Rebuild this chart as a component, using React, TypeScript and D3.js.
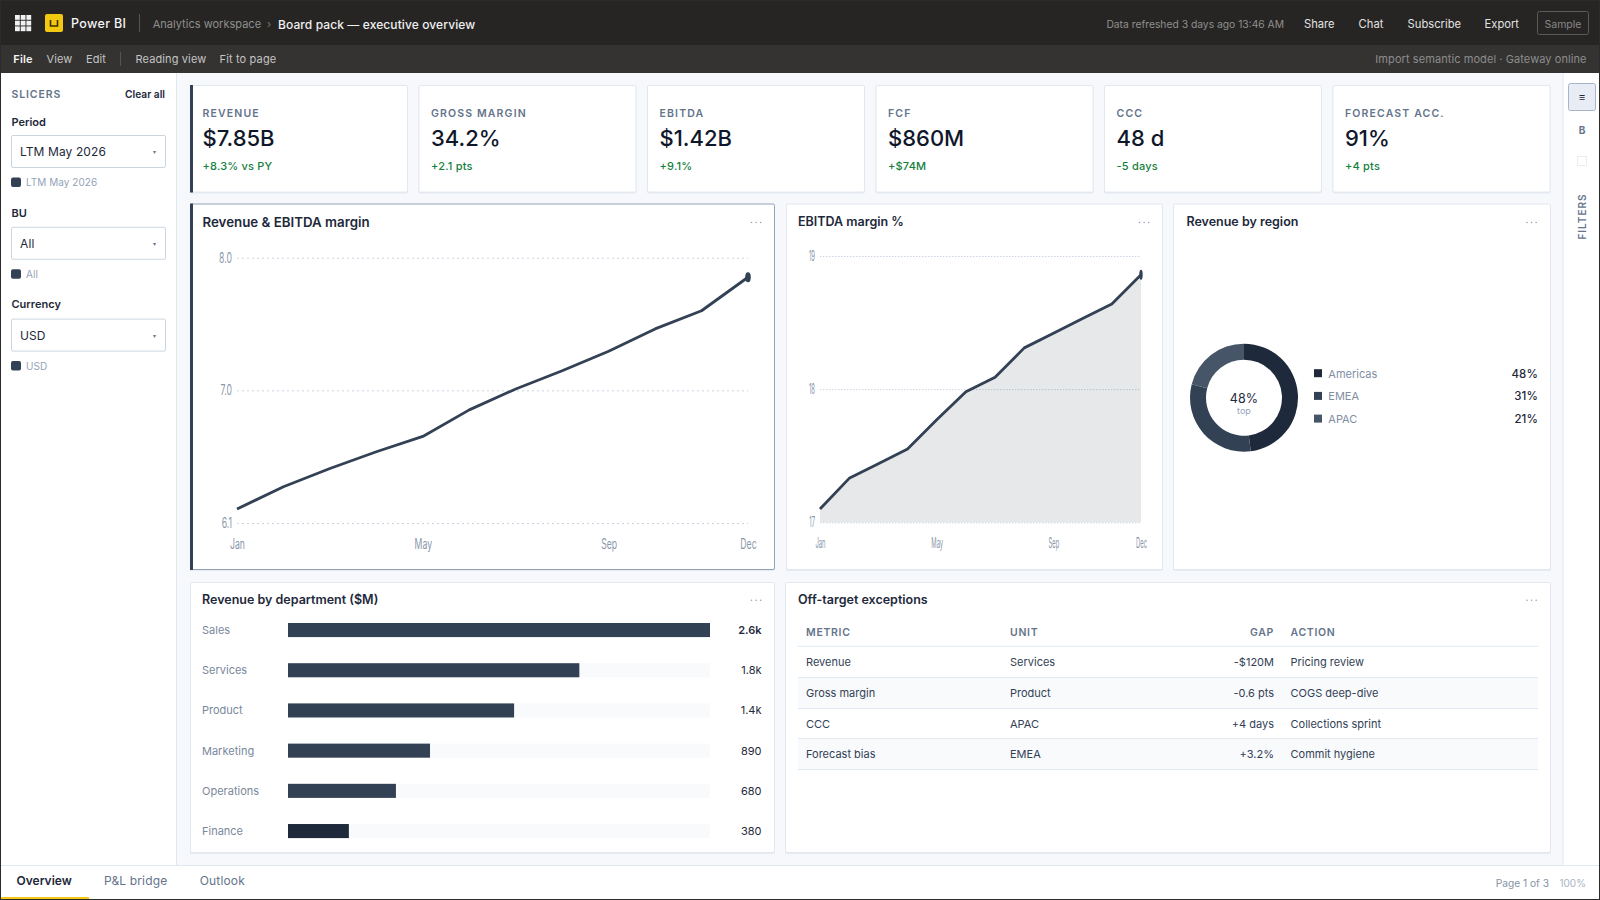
import React, { useEffect, useRef } from 'react';
import * as d3 from 'd3';

const months = ['Jan', 'Feb', 'Mar', 'Apr', 'May', 'Jun', 'Jul', 'Aug', 'Sep', 'Oct', 'Nov', 'Dec'];
const monthTicks = ['Jan', 'May', 'Sep', 'Dec'];
const revenue = [6.2, 6.36, 6.49, 6.61, 6.72, 6.91, 7.06, 7.19, 7.33, 7.49, 7.62, 7.86];
const revenueTicks = [6.1, 7.05, 8.0];
const margin = [17.1, 17.33, 17.44, 17.55, 17.77, 17.98, 18.09, 18.31, 18.42, 18.53, 18.64, 18.86];
const marginTicks = [17, 18, 19];

const kpiLabels = ['REVENUE', 'GROSS MARGIN', 'EBITDA', 'FCF', 'CCC', 'FORECAST ACC.'];
const kpiValues = ['$7.85B', '34.2%', '$1.42B', '$860M', '48 d', '91%'];
const kpiDeltas = ['+8.3% vs PY', '+2.1 pts', '+9.1%', '+$74M', '-5 days', '+4 pts'];

const slicerLabels = ['Period', 'BU', 'Currency'];
const slicerValues = ['LTM May 2026', 'All', 'USD'];

const regions = ['Americas', 'EMEA', 'APAC'];
const regionShare = [48, 31, 21];
const regionColors = ['#1e293b', '#334155', '#475569'];

const departments = ['Sales', 'Services', 'Product', 'Marketing', 'Operations', 'Finance'];
const deptValues = [2600, 1795, 1393, 875, 665, 375];
const deptLabels = ['2.6k', '1.8k', '1.4k', '890', '680', '380'];

const tableHead = ['METRIC', 'UNIT', 'GAP', 'ACTION'];
const tableMetric = ['Revenue', 'Gross margin', 'CCC', 'Forecast bias'];
const tableUnit = ['Services', 'Product', 'APAC', 'EMEA'];
const tableGap = ['-$120M', '-0.6 pts', '+4 days', '+3.2%'];
const tableAction = ['Pricing review', 'COGS deep-dive', 'Collections sprint', 'Commit hygiene'];

const topLinks = ['Share', 'Chat', 'Subscribe', 'Export'];
const topLinkX = [1304, 1358.6, 1407.6, 1484.6];
const tabs = ['Overview', 'P&L bridge', 'Outlook'];
const tabX = [16.5, 104, 199.8];

const INK = '#1e293b';
const SLATE = '#334155';
const MUTED = '#64748b';
const SOFT = '#94a3b8';
const LINE = '#e2e8f0';
const GREEN = '#15803d';

function T(props: any) {
  const { x, y, size = 11, weight = 400, fill = INK, anchor = 'start', ls = 0, children, ...rest } = props;
  return (
    <text x={x} y={y} fontSize={size} fontWeight={weight} fill={fill} textAnchor={anchor}
      letterSpacing={ls} dominantBaseline="central" {...rest}>
      {children}
    </text>
  );
}

function Panel({ x, y, w, h, title, tx, dotsX, active, titleSize = 12.5, headY = 18 }: any) {
  return (
    <g>
      <rect x={x} y={y + 1} width={w} height={h} rx={2} fill="#dfe5ee" opacity={0.7} />
      <rect x={x + 0.5} y={y + 0.5} width={w - 1} height={h - 1} rx={1.5} fill="#fff" stroke={active ? '#94a3b8' : LINE} />
      {active && <rect x={x} y={y} width={3} height={h} fill={SLATE} />}
      {title && <T x={tx} y={y + headY} size={titleSize} weight={600} fill={INK}>{title}</T>}
      {dotsX && [0, 1, 2].map(i => (
        <circle key={i} cx={dotsX + i * 4.6} cy={y + headY + 1} r={0.8} fill={SOFT} />
      ))}
    </g>
  );
}

function LineChart({ x0, x1, yTop, yBottom, values, domain, ticks, format, squeeze, dash, area, dot }: any) {
  const axisRef = useRef<SVGGElement>(null);
  const x = d3.scalePoint<string>().domain(months).range([x0, x1]);
  const y = d3.scaleLinear().domain(domain).range([yBottom, yTop]);

  useEffect(() => {
    if (!axisRef.current) return;
    const root = d3.select(axisRef.current);
    root.selectAll('*').remove();

    const left = root.append('g')
      .attr('transform', `translate(${x0},0)`)
      .call(d3.axisLeft(y).tickValues(ticks).tickSize(-(x1 - x0)).tickFormat(format));
    left.select('.domain').remove();
    left.selectAll('line').attr('stroke', '#cbd5e1').attr('stroke-dasharray', dash);
    left.selectAll('text')
      .attr('x', 0)
      .attr('transform', `translate(-5,0) scale(${squeeze},1)`)
      .attr('fill', '#8a97aa')
      .attr('font-size', 14)
      .attr('font-family', 'Inter');

    const bottom = root.append('g')
      .attr('transform', `translate(0,${yBottom + 10})`)
      .call(d3.axisBottom(x).tickValues(monthTicks).tickSize(0).tickPadding(6));
    bottom.select('.domain').remove();
    bottom.selectAll('text')
      .attr('transform', `scale(${squeeze},1)`)
      .attr('fill', '#8a97aa')
      .attr('font-size', 14)
      .attr('font-family', 'Inter');
  }, []);

  const lineGen = d3.line<number>().x((_, i) => x(months[i]) as number).y(d => y(d));
  const areaGen = d3.area<number>().x((_, i) => x(months[i]) as number).y0(yBottom).y1(d => y(d));
  const last = values[values.length - 1];

  return (
    <g>
      <g ref={axisRef} />
      {area && <path d={areaGen(values) as string} fill={INK} opacity={0.11} />}
      <path d={lineGen(values) as string} fill="none" stroke={SLATE} strokeWidth={2.8} strokeLinejoin="round" />
      <ellipse cx={x1} cy={y(last)} rx={dot} ry={5} fill={SLATE} />
    </g>
  );
}

function Donut() {
  const pie = d3.pie<number>().sort(null)(regionShare);
  const arc = d3.arc<d3.PieArcDatum<number>>().innerRadius(38).outerRadius(54);
  return (
    <g transform="translate(1244,397.7)">
      {pie.map((d, i) => <path key={i} d={arc(d) as string} fill={regionColors[i]} />)}
    </g>
  );
}

function Bars() {
  const y = d3.scaleBand().domain(departments).range([623, 838.1]).paddingInner(0.65).paddingOuter(0);
  const x = d3.scaleLinear().domain([0, d3.max(deptValues) as number]).range([288, 710]);
  return (
    <g>
      {departments.map((d, i) => {
        const top = y(d) as number;
        const mid = top + y.bandwidth() / 2;
        return (
          <g key={d}>
            <T x={202} y={mid} fill="#7a889c">{d}</T>
            <rect x={288} y={top} width={x.range()[1] - 288} height={y.bandwidth()} fill="#f8fafc" />
            <rect x={288} y={top} width={x(deptValues[i]) - 288} height={y.bandwidth()}
              fill={i === departments.length - 1 ? INK : SLATE} />
            <T x={761.5} y={mid} anchor="end" weight={i === 0 ? 600 : 400}>{deptLabels[i]}</T>
          </g>
        );
      })}
    </g>
  );
}

function Table() {
  const rowEdges = [646.3, 677.5, 708.5, 738.5, 769.5];
  return (
    <g>
      <T x={806} y={632.3} weight={600} ls={0.7} fill={MUTED} size={10.5}>{tableHead[0]}</T>
      <T x={1010} y={632.3} weight={600} ls={0.7} fill={MUTED} size={10.5}>{tableHead[1]}</T>
      <T x={1274} y={632.3} weight={600} ls={0.7} fill={MUTED} size={10.5} anchor="end">{tableHead[2]}</T>
      <T x={1290.5} y={632.3} weight={600} ls={0.7} fill={MUTED} size={10.5}>{tableHead[3]}</T>
      {tableMetric.map((m, i) => {
        const top = rowEdges[i];
        const bottom = rowEdges[i + 1];
        const mid = (top + bottom) / 2 + 0.4;
        return (
          <g key={m}>
            {i % 2 === 1 && <rect x={798} y={top} width={740} height={bottom - top} fill="#f8fafc" />}
            <T x={806} y={mid} fill={SLATE}>{m}</T>
            <T x={1010} y={mid} fill={SLATE}>{tableUnit[i]}</T>
            <T x={1274} y={mid} fill={SLATE} anchor="end">{tableGap[i]}</T>
            <T x={1290.5} y={mid} fill={SLATE}>{tableAction[i]}</T>
          </g>
        );
      })}
      {rowEdges.map(e => <line key={e} x1={798} x2={1538} y1={e} y2={e} stroke={LINE} />)}
    </g>
  );
}

export default function App() {
  const waffle = d3.range(9);
  return (
    <>
      <style>{'html,body{margin:0;padding:0;overflow:hidden;background:#fff}'}</style>
      <svg width={1600} height={900} viewBox="0 0 1600 900" fontFamily="Inter" style={{ display: 'block' }}>
        <rect width={1600} height={900} fill="#f6f8fb" />

        {/* top bar */}
        <rect width={1600} height={45} fill="#262524" />
        <rect y={45} width={1600} height={28} fill="#343332" />
        {waffle.map(i => (
          <rect key={i} x={15 + (i % 3) * 5.7} y={15 + Math.floor(i / 3) * 5.7} width={4.8} height={4.8} fill="#f1f1f1" />
        ))}
        <rect x={45} y={14} width={18} height={18} rx={2} fill="#f2c811" />
        <path d="M50.5 20v6h7v-6" fill="none" stroke="#3a3000" strokeWidth={1.6} />
        <T x={71} y={23.5} size={12.5} weight={500} ls={0.35} fill="#f5f5f5">Power BI</T>
        <line x1={139.5} x2={139.5} y1={14} y2={32} stroke="#555" />
        <T x={152.7} y={24} size={11} ls={0.02} fill="#8f8f8f">Analytics workspace</T>
        <T x={267} y={24} size={11} fill="#777">›</T>
        <T x={278} y={24} size={12} weight={500} ls={0.1} fill="#f0f0f0">Board pack — executive overview</T>
        <T x={1284} y={24} size={10.3} fill="#8f8f8f" anchor="end">Data refreshed 3 days ago 13:46 AM</T>
        {topLinks.map((l, i) => (
          <T key={l} x={topLinkX[i]} y={23.5} size={11.2} fill="#e2e2e2">{l}</T>
        ))}
        <rect x={1537.5} y={11.5} width={51} height={23} rx={2} fill="none" stroke="#5a5a5a" />
        <T x={1563} y={24} size={10.5} fill="#888" anchor="middle">Sample</T>

        {/* ribbon */}
        <T x={13.3} y={59} size={11} weight={600} ls={0.15} fill="#f5f5f5">File</T>
        <T x={46.5} y={59} size={11} ls={0.1} fill="#c4c4c4">View</T>
        <T x={86} y={59} size={11} ls={0.1} fill="#c4c4c4">Edit</T>
        <line x1={120.5} x2={120.5} y1={52} y2={66} stroke="#555" />
        <T x={135.5} y={59} size={11} ls={0.12} fill="#c4c4c4">Reading view</T>
        <T x={219.5} y={59} size={11} ls={0.15} fill="#c4c4c4">Fit to page</T>
        <T x={1586.6} y={59} size={11} ls={0.08} fill="#8d8d8d" anchor="end">Import semantic model · Gateway online</T>

        {/* slicers */}
        <rect y={73} width={176.5} height={792} fill="#fff" />
        <line x1={176.5} x2={176.5} y1={73} y2={865} stroke={LINE} />
        <T x={11.5} y={94} size={10.5} weight={600} ls={0.9} fill={MUTED}>SLICERS</T>
        <T x={165} y={94} size={10.2} weight={600} anchor="end">Clear all</T>
        {slicerLabels.map((s, i) => {
          const off = 91.8 * i;
          return (
            <g key={s}>
              <T x={11.5} y={122 + 91.2 * i} size={11} weight={600}>{s}</T>
              <rect x={11.5} y={135.5 + off} width={154} height={32} rx={1.5} fill="#fff" stroke="#cbd5e1" />
              <T x={20} y={151.5 + off} size={12} ls={0.1}>{slicerValues[i]}</T>
              <T x={154.5} y={151.5 + off} size={6} fill={MUTED} anchor="middle">▾</T>
              <rect x={11} y={177.5 + off} width={10} height={9.5} rx={2} fill={SLATE} />
              <T x={26} y={182 + off} size={10} ls={0.05} fill={SOFT}>{slicerValues[i]}</T>
            </g>
          );
        })}

        {/* KPI cards */}
        {kpiLabels.map((l, i) => {
          const x = 190 + i * 228.5;
          return (
            <g key={l}>
              <Panel x={x} y={85} w={218} h={107.5} active={false} />
              {i === 0 && <rect x={x} y={85} width={3} height={107.5} fill={SLATE} />}
              <T x={x + 12.5} y={113} size={10.5} weight={600} ls={1.15} fill={MUTED}>{l}</T>
              <T x={x + 12.5} y={138.4} size={22} weight={500} fill="#0f172a">{kpiValues[i]}</T>
              <T x={x + 12.5} y={166} size={11} weight={500} ls={0.2} fill={GREEN}>{kpiDeltas[i]}</T>
            </g>
          );
        })}

        {/* charts */}
        <Panel x={190} y={203.5} w={585} h={366.5} title="Revenue & EBITDA margin" tx={202.5} dotsX={751.5} active titleSize={13.3} />
        <LineChart x0={237} x1={748} yTop={257.7} yBottom={523} values={revenue} domain={[6.1, 8.0]}
          ticks={revenueTicks} format={(d: number) => d.toFixed(1)} squeeze={0.62} dash="2,3" dot={2.8} />
        <Panel x={786} y={203.5} w={377} h={366.5} title="EBITDA margin %" tx={798} dotsX={1139.5} />
        <LineChart x0={820} x1={1141} yTop={256} yBottom={522.3} values={margin} domain={[17, 19]}
          ticks={marginTicks} format={(d: number) => String(d)} squeeze={0.42} dash="1.5,1.5" area dot={1.7} />
        <Panel x={1173} y={203.5} w={378} h={366.5} title="Revenue by region" tx={1186.4} dotsX={1527} />

        <Donut />
        <T x={1244} y={398.3} size={12.5} weight={400} ls={0.2} anchor="middle">{regionShare[0]}%</T>
        <T x={1244} y={410.5} size={9} fill={SOFT} anchor="middle">top</T>
        {regions.map((r, i) => (
          <g key={r}>
            <rect x={1314} y={369.2 + i * 22.7} width={8} height={8} fill={regionColors[i]} />
            <T x={1328.3} y={373.8 + i * 22.5} fill="#7f8ea3">{r}</T>
            <T x={1538} y={373.8 + i * 22.5} size={11.5} weight={500} ls={0.1} anchor="end">{regionShare[i]}%</T>
          </g>
        ))}

        <Panel x={190} y={582} w={585} h={271} title="Revenue by department ($M)" tx={202} dotsX={751.5} headY={17.3} />
        <Bars />
        <Panel x={785} y={582} w={766} h={271} title="Off-target exceptions" tx={798} dotsX={1527} headY={17.3} />
        <Table />

        {/* filter rail */}
        <rect x={1563} y={73} width={36} height={792} fill="#fff" />
        <line x1={1563} x2={1563} y1={73} y2={865} stroke={LINE} />
        <rect x={1568.5} y={83.5} width={27} height={27} rx={2} fill="#e8edf5" stroke="#a8b5c8" />
        <T x={1582} y={97} size={11} weight={600} anchor="middle">≡</T>
        <T x={1582} y={129.5} size={10} weight={700} fill={MUTED} anchor="middle">B</T>
        <rect x={1577.5} y={156.5} width={9} height={9} fill="none" stroke="#e9eef4" />
        <T x={0} y={0} size={10} weight={600} ls={1} fill={MUTED} anchor="middle"
          transform="translate(1582,216.5) rotate(-90)">FILTERS</T>

        {/* page tabs */}
        <rect y={865} width={1600} height={35} fill="#fff" />
        <line x1={0} x2={1600} y1={865.5} y2={865.5} stroke={LINE} />
        {tabs.map((t, i) => (
          <T key={t} x={tabX[i]} y={880.2} size={12} ls={i === 0 ? 0 : 0.15} weight={i === 0 ? 600 : 400} fill={i === 0 ? INK : MUTED}>{t}</T>
        ))}
        <rect y={897} width={89} height={2} fill="#f2c811" />
        <T x={1549} y={883} size={10.2} fill="#8492a6" anchor="end">Page 1 of 3</T>
        <T x={1586} y={883} size={10} fill="#aab4c2" anchor="end">100%</T>

        <rect x={0.5} y={0.5} width={1599} height={899} fill="none" stroke="#2b2b2b" />
      </svg>
    </>
  );
}
